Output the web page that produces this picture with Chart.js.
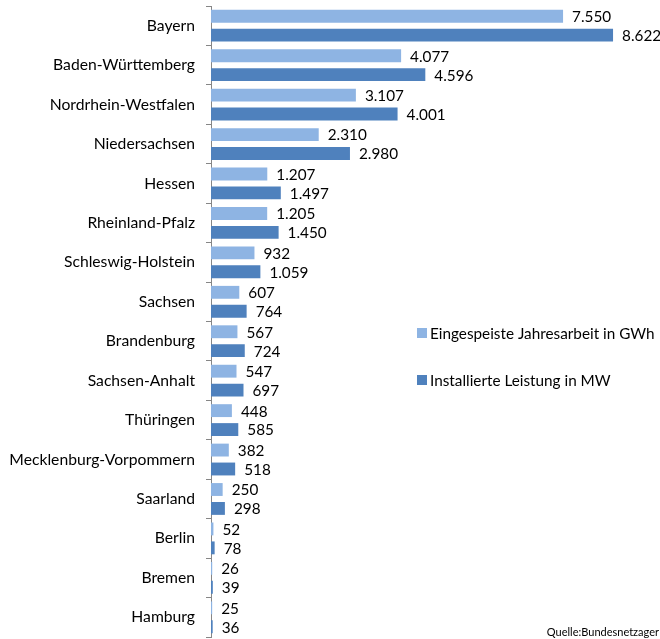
<!DOCTYPE html>
<html>
<head>
<meta charset="utf-8">
<script src="https://cdn.jsdelivr.net/npm/chart.js@4/dist/chart.umd.min.js"></script>
<style>
html,body{margin:0;padding:0;background:#fff;}
#wrap{position:relative;width:660px;height:639px;}
</style>
</head>
<body>
<div id="wrap"><canvas id="c" width="660" height="639"></canvas></div>
<script>
const categories = ["Bayern","Baden-Württemberg","Nordrhein-Westfalen","Niedersachsen","Hessen","Rheinland-Pfalz","Schleswig-Holstein","Sachsen","Brandenburg","Sachsen-Anhalt","Thüringen","Mecklenburg-Vorpommern","Saarland","Berlin","Bremen","Hamburg"];
const jahresarbeitGWh = [7550,4077,3107,2310,1207,1205,932,607,567,547,448,382,250,52,26,25];
const leistungMW = [8622,4596,4001,2980,1497,1450,1059,764,724,697,585,518,298,78,39,36];
const seriesNames = ["Eingespeiste Jahresarbeit in GWh","Installierte Leistung in MW"];
const sourceText = "Quelle:Bundesnetzager";

const FONT = "Lato";
const fmt = v => String(v).replace(/\B(?=(\d{3})+(?!\d))/g, ".");

const labelPlugin = {
  id: 'labels',
  afterDatasetsDraw(chart) {
    const ctx = chart.ctx;
    ctx.save();
    ctx.font = "15.3px " + FONT;
    ctx.fillStyle = "#000";
    ctx.textAlign = "left";
    ctx.textBaseline = "middle";
    chart.data.datasets.forEach((ds, i) => {
      chart.getDatasetMeta(i).data.forEach((bar, j) => {
        ctx.fillText(fmt(ds.data[j]), bar.x + 9, bar.y + 1);
      });
    });
    ctx.restore();
  }
};

const legendPlugin = {
  id: 'customLegend',
  afterDraw(chart) {
    const ctx = chart.ctx;
    ctx.save();
    ctx.font = "15.3px " + FONT;
    ctx.textBaseline = "middle";
    ctx.textAlign = "left";
    const ys = [333, 380];
    chart.data.datasets.forEach((ds, i) => {
      ctx.fillStyle = ds.backgroundColor;
      ctx.fillRect(417, ys[i] - 5, 10, 10);
      ctx.fillStyle = "#000";
      ctx.fillText(ds.label, 430, ys[i] + 1);
    });
    ctx.font = "11px " + FONT;
    ctx.textAlign = "right";
    ctx.fillText(sourceText, 659, 632);
    ctx.restore();
  }
};

new Chart(document.getElementById('c'), {
  type: 'bar',
  data: {
    labels: categories,
    datasets: [
      { label: seriesNames[0], data: jahresarbeitGWh, backgroundColor: "#8EB4E3", categoryPercentage: 0.96, barPercentage: 0.68 },
      { label: seriesNames[1], data: leistungMW, backgroundColor: "#4F81BD", categoryPercentage: 0.96, barPercentage: 0.68 }
    ]
  },
  options: {
    indexAxis: 'y',
    responsive: false,
    animation: false,
    layout: { padding: { top: 6, bottom: 2, left: 0, right: 20 } },
    plugins: { legend: { display: false }, tooltip: { enabled: false } },
    scales: {
      x: { display: false, min: 0, max: 9200 },
      y: {
        afterFit(s) { s.width = 211; s.paddingTop = 0; s.paddingBottom = 0; },
        border: { display: true, color: "#868686", width: 1 },
        grid: { offset: true, drawOnChartArea: false, drawTicks: true, tickLength: 5, color: "#868686" },
        ticks: { padding: 11, color: "#000", font: { family: FONT, size: 15.7 } }
      }
    }
  },
  plugins: [labelPlugin, legendPlugin]
});
</script>
</body>
</html>
